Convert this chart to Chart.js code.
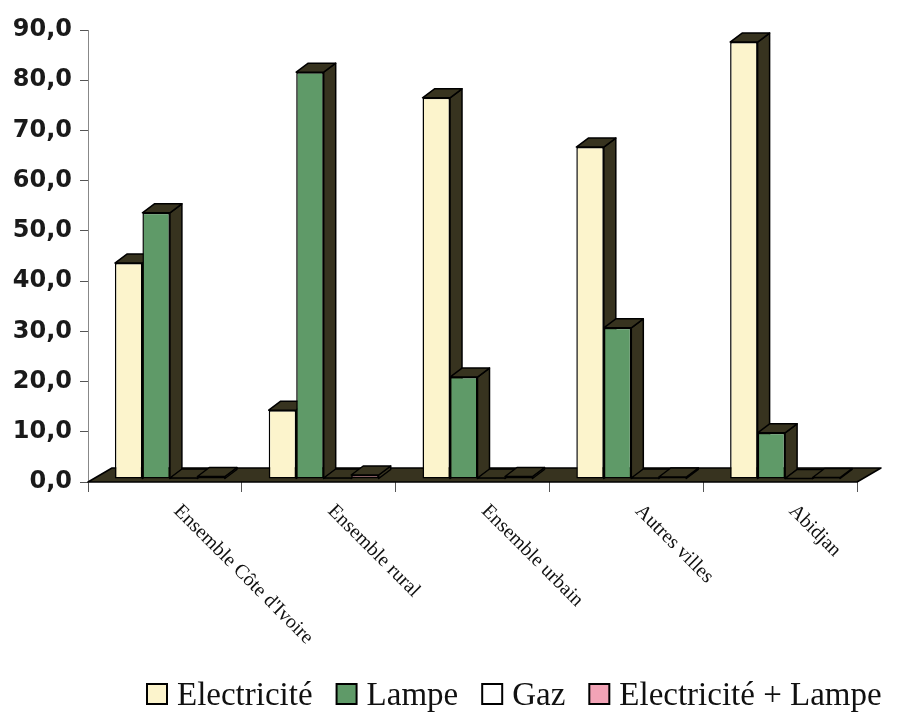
<!DOCTYPE html>
<html>
<head>
<meta charset="utf-8">
<script src="https://cdn.jsdelivr.net/npm/chart.js@4"></script>
<style>
  html, body { margin: 0; padding: 0; background: #fff; }
  canvas { display: block; }
</style>
</head>
<body>
<canvas id="chart" width="898" height="720"></canvas>
<script>
'use strict';

// données (%)
const categories = ['Ensemble Côte d\'Ivoire', 'Ensemble rural', 'Ensemble urbain', 'Autres villes', 'Abidjan'];
const seriesNames = ['Electricité', 'Lampe', 'Gaz', 'Electricité + Lampe'];
const electricite = [43.0, 13.7, 75.9, 66.1, 87.0];
const lampe = [53.0, 81.0, 20.3, 30.1, 9.2];
const gaz = [0.2, 0.2, 0.2, 0.2, 0.1];
const elecLampe = [0.5, 0.8, 0.5, 0.4, 0.3];
const yTicks = [0, 10, 20, 30, 40, 50, 60, 70, 80, 90];

const colors = ['#fcf4cc', '#5f9a68', '#ffffff', '#f2a3b6'];
const SIDE = '#37331f';
const DX = 12, DY = 9;          // profondeur des barres
const FLOOR_DX = 24, FLOOR_DY = 14;
const SHIFT_X = 5, SHIFT_Y = -3;

function poly(ctx, pts) {
  ctx.beginPath();
  ctx.moveTo(pts[0][0], pts[0][1]);
  for (let i = 1; i < pts.length; i++) ctx.lineTo(pts[i][0], pts[i][1]);
  ctx.closePath();
  ctx.fill();
  ctx.stroke();
}

const depth3d = {
  id: 'depth3d',
  beforeDatasetsDraw(chart) {
    const ctx = chart.ctx;
    const a = chart.chartArea;
    ctx.save();
    ctx.fillStyle = SIDE;
    ctx.strokeStyle = '#000';
    ctx.lineWidth = 1.5;
    ctx.lineJoin = 'round';
    // plancher
    poly(ctx, [[a.left, a.bottom], [a.right, a.bottom], [a.right + FLOOR_DX, a.bottom - FLOOR_DY], [a.left + FLOOR_DX, a.bottom - FLOOR_DY]]);
    ctx.translate(SHIFT_X, SHIFT_Y);
    chart.data.datasets.forEach(function(ds, i) {
      chart.getDatasetMeta(i).data.forEach(function(bar) {
        const p = bar.getProps(['x', 'y', 'base', 'width'], true);
        const l = p.x - p.width / 2, r = p.x + p.width / 2;
        poly(ctx, [[r, p.y], [r + DX, p.y - DY], [r + DX, p.base - DY], [r, p.base]]);
        poly(ctx, [[l, p.y], [l + DX, p.y - DY], [r + DX, p.y - DY], [r, p.y]]);
      });
    });
    ctx.restore();
    ctx.save();
    ctx.translate(SHIFT_X, SHIFT_Y);
  },
  afterDatasetsDraw(chart) {
    chart.ctx.restore();
  },
  afterDraw(chart) {
    const ctx = chart.ctx;
    const xs = chart.scales.x;
    // étiquettes inclinées
    ctx.save();
    ctx.fillStyle = '#111';
    ctx.font = '20px "Liberation Serif", "Times New Roman", serif';
    ctx.textAlign = 'left';
    ctx.textBaseline = 'top';
    categories.forEach(function(c, i) {
      const x = xs.getPixelForValue(i);
      ctx.save();
      ctx.translate(x + 19, chart.chartArea.bottom + 19);
      ctx.rotate(Math.PI / 4);
      ctx.fillText(c, 0, 0);
      ctx.restore();
    });
    ctx.restore();

    // légende
    ctx.save();
    ctx.font = '33px "Liberation Serif", "Times New Roman", serif';
    ctx.textBaseline = 'alphabetic';
    let x = 147;
    const base = 705, box = 20;
    chart.data.datasets.forEach(function(ds) {
      ctx.fillStyle = ds.backgroundColor;
      ctx.strokeStyle = '#000';
      ctx.lineWidth = 2;
      ctx.fillRect(x, base - box - 1, box, box);
      ctx.strokeRect(x, base - box - 1, box, box);
      x += box + 10;
      ctx.fillStyle = '#111';
      ctx.fillText(ds.label, x, base);
      x += ctx.measureText(ds.label).width + 24;
    });
    ctx.restore();
  }
};

const seriesData = [electricite, lampe, gaz, elecLampe];

new Chart(document.getElementById('chart').getContext('2d'), {
  type: 'bar',
  data: {
    labels: categories,
    datasets: seriesNames.map(function(name, i) {
      return {
        label: name,
        data: seriesData[i],
        backgroundColor: colors[i],
        borderColor: '#000',
        borderWidth: 1.5,
        borderSkipped: false,
        categoryPercentage: 0.715,
        barPercentage: 1.0,
        clip: false
      };
    })
  },
  options: {
    responsive: false,
    animation: false,
    layout: { padding: { top: 30, right: 41, bottom: 0, left: 0 } },
    plugins: {
      legend: { display: false },
      tooltip: { enabled: false }
    },
    scales: {
      x: {
        afterFit: function(scale) { scale.height = 238; },
        grid: { offset: true, drawOnChartArea: false, tickLength: 10, color: '#555' },
        border: { display: false },
        ticks: { display: false }
      },
      y: {
        min: 0,
        max: 90,
        afterFit: function(scale) { scale.width = 88; },
        afterBuildTicks: function(scale) { scale.ticks = yTicks.map(function(v) { return { value: v }; }); },
        grid: { drawOnChartArea: false, tickLength: 8, color: '#555' },
        border: { display: true, color: '#888', width: 1 },
        ticks: {
          padding: 8,
          color: '#1a1a1a',
          font: { family: '"DejaVu Sans", Arial, sans-serif', size: 24, weight: 'bold' },
          callback: function(v) { return v.toFixed(1).replace('.', ','); }
        }
      }
    }
  },
  plugins: [depth3d]
});
</script>
</body>
</html>
